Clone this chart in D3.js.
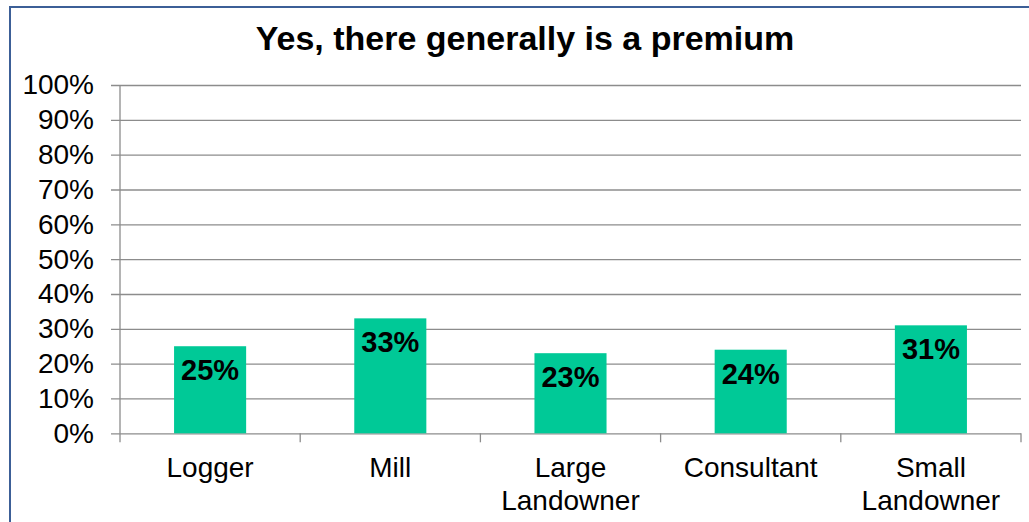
<!DOCTYPE html>
<html lang="en">
<head>
    <meta charset="UTF-8">
    <title>Yes, there generally is a premium</title>
    <script src="https://d3js.org/d3.v7.min.js"></script>
    <style>
        body { margin: 0; background: #fff; }
        text { font-family: Arial, "Liberation Sans", sans-serif; fill: #000; }
        .bar { fill: #00c997; }
    </style>
</head>
<body>
    <svg width="1029" height="522"></svg>
    <script>
        const categories = ["Logger", "Mill", "Large\nLandowner", "Consultant", "Small\nLandowner"];
        const values = [0.25, 0.33, 0.23, 0.24, 0.31];
        const yTicks = [0, 0.1, 0.2, 0.3, 0.4, 0.5, 0.6, 0.7, 0.8, 0.9, 1.0];
        const title = "Yes, there generally is a premium";

        const svg = d3.select("svg");
        const plotLeft = 120, plotRight = 1021, plotTop = 85, plotBottom = 433.3;

        // chart frame (only left and top edges visible in the crop)
        svg.append("rect")
           .attr("x", 10).attr("y", 7)
           .attr("width", 1060).attr("height", 560)
           .attr("fill", "none")
           .attr("stroke", "#3c5f97")
           .attr("stroke-width", 2);

        svg.append("text")
           .attr("x", 525).attr("y", 50)
           .attr("text-anchor", "middle")
           .attr("font-size", 34)
           .attr("font-weight", "bold")
           .text(title);

        const x = d3.scaleBand()
                    .domain(categories)
                    .range([plotLeft, plotRight])
                    .paddingInner(0.6)
                    .paddingOuter(0.3);
        const y = d3.scaleLinear()
                    .domain([0, 1])
                    .range([plotBottom, plotTop]);

        // gridlines + y axis
        const yAxis = svg.append("g")
           .attr("transform", `translate(${plotLeft},0)`)
           .call(d3.axisLeft(y).tickValues(yTicks).tickFormat(d3.format(".0%"))
                   .tickSize(-(plotRight - plotLeft)).tickPadding(26));
        yAxis.select(".domain").remove();
        yAxis.selectAll(".tick line")
             .attr("x1", -9)
             .attr("stroke", "#8c8c8c")
             .attr("stroke-width", 1.3);
        yAxis.selectAll(".tick text")
             .attr("font-size", 28)
             .attr("font-family", "Arial, 'Liberation Sans', sans-serif")
             .attr("fill", "#000");

        // vertical axis line
        svg.append("line")
           .attr("x1", plotLeft).attr("x2", plotLeft)
           .attr("y1", plotTop).attr("y2", plotBottom)
           .attr("stroke", "#8c8c8c").attr("stroke-width", 1.3);

        // category boundary ticks
        const bounds = categories.map(c => x(c) - x.step() * x.paddingOuter())
                                 .concat([plotRight]);
        svg.selectAll(".xtick")
           .data(bounds)
           .enter().append("line")
           .attr("class", "xtick")
           .attr("x1", d => d).attr("x2", d => d)
           .attr("y1", plotBottom).attr("y2", plotBottom + 9)
           .attr("stroke", "#8c8c8c").attr("stroke-width", 1.3);

        svg.selectAll(".bar")
           .data(values)
           .enter().append("rect")
           .attr("class", "bar")
           .attr("x", (d, i) => x(categories[i]))
           .attr("y", d => y(d))
           .attr("width", x.bandwidth())
           .attr("height", d => plotBottom - y(d));

        svg.selectAll(".vlabel")
           .data(values)
           .enter().append("text")
           .attr("class", "vlabel")
           .attr("x", (d, i) => x(categories[i]) + x.bandwidth() / 2)
           .attr("y", d => y(d) + 34)
           .attr("text-anchor", "middle")
           .attr("font-size", 29)
           .attr("font-weight", "bold")
           .text(d => d3.format(".0%")(d));

        // category labels
        const cl = svg.selectAll(".clabel")
           .data(categories)
           .enter().append("text")
           .attr("class", "clabel")
           .attr("text-anchor", "middle")
           .attr("font-size", 28)
           .attr("x", d => x(d) + x.bandwidth() / 2)
           .attr("y", 477);
        cl.each(function(d) {
            const t = d3.select(this);
            d.split("\n").forEach((line, i) => {
                t.append("tspan")
                 .attr("x", x(d) + x.bandwidth() / 2)
                 .attr("dy", i === 0 ? 0 : 33)
                 .text(line);
            });
        });
    </script>
</body>
</html>
